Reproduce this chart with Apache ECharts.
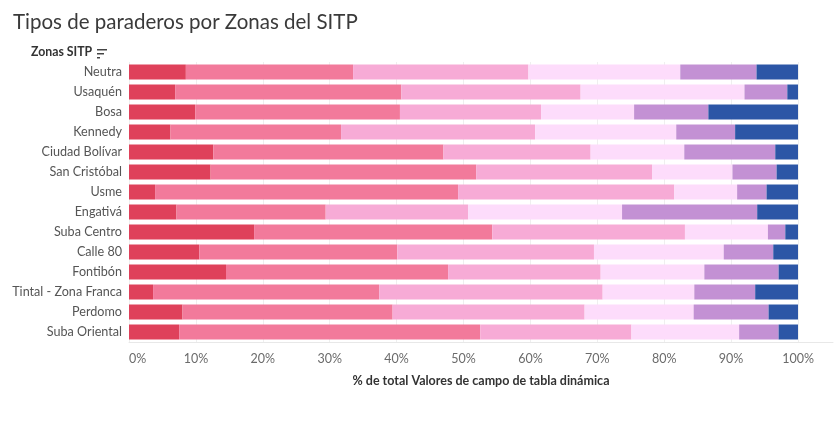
<!DOCTYPE html>
<html lang="es">
<head>
<meta charset="UTF-8">
<title>Tipos de paraderos por Zonas del SITP</title>
<script src="https://cdn.jsdelivr.net/npm/echarts@6/dist/echarts.min.js"></script>
<style>
    html, body { margin: 0; padding: 0; background: #fff; }
    #chart { width: 840px; height: 433px; }
</style>
</head>
<body>
<div id="chart"></div>
<script>
// zonas (de arriba hacia abajo)
var zonas = ['Neutra', 'Usaquén', 'Bosa', 'Kennedy', 'Ciudad Bolívar', 'San Cristóbal', 'Usme',
    'Engativá', 'Suba Centro', 'Calle 80', 'Fontibón', 'Tintal - Zona Franca', 'Perdomo', 'Suba Oriental'];

// % de total por tipo de paradero
var tipo1 = [8.5, 6.9, 9.9, 6.2, 12.6, 12.2, 3.9, 7.1, 18.7, 10.5, 14.5, 3.6, 8.0, 7.5];
var tipo2 = [25.0, 33.8, 30.6, 25.5, 34.4, 39.7, 45.3, 22.3, 35.6, 29.6, 33.2, 33.8, 31.4, 45.0];
var tipo3 = [26.2, 26.8, 21.1, 29.0, 22.0, 26.3, 32.3, 21.3, 28.8, 29.4, 22.8, 33.4, 28.7, 22.6];
var tipo4 = [22.7, 24.5, 13.9, 21.1, 14.0, 12.0, 9.4, 23.0, 12.4, 19.4, 15.5, 13.7, 16.3, 16.1];
var tipo5 = [11.4, 6.4, 11.1, 8.8, 13.6, 6.6, 4.4, 20.2, 2.6, 7.4, 11.1, 9.1, 11.2, 5.9];
var tipo6 = [6.2, 1.6, 13.4, 9.4, 3.4, 3.2, 4.7, 6.1, 1.9, 3.7, 2.9, 6.4, 4.4, 2.9];

var tipos = ['Tipo 1', 'Tipo 2', 'Tipo 3', 'Tipo 4', 'Tipo 5', 'Tipo 6'];
var valores = [tipo1, tipo2, tipo3, tipo4, tipo5, tipo6];
var colores = ['#df415b', '#f27a9b', '#f7abd6', '#fddcfb', '#c391d4', '#2c56a6'];

var fuente = 'Lato, "Open Sans", sans-serif';
var chart = echarts.init(document.getElementById('chart'));

var series = tipos.map(function (nombre, i) {
    return {
        name: nombre,
        type: 'bar',
        stack: 'total',
        barWidth: 15,
        itemStyle: { color: colores[i] },
        data: valores[i]
    };
});

chart.setOption({
    animation: false,
    textStyle: { fontFamily: fuente },
    title: {
        text: 'Tipos de paraderos por Zonas del SITP',
        left: 8,
        top: 7,
        textStyle: { fontFamily: fuente, fontSize: 20.5, fontWeight: 'normal', color: '#3a3a3a' }
    },
    graphic: [
        {
            type: 'text', left: 31, top: 46,
            style: { text: 'Zonas SITP', font: 'bold 12.3px ' + fuente, fill: '#333' }
        },
        { type: 'rect', left: 97, top: 49, shape: { width: 10, height: 1.5 }, style: { fill: '#444' } },
        { type: 'rect', left: 97, top: 53, shape: { width: 7, height: 1.5 }, style: { fill: '#444' } },
        { type: 'rect', left: 97, top: 57, shape: { width: 3, height: 1.5 }, style: { fill: '#444' } }
    ],
    grid: { left: 129, right: 7, top: 62, height: 280 },
    xAxis: {
        type: 'value',
        min: 0,
        max: 105.23,
        interval: 10,
        name: '% de total Valores de campo de tabla dinámica',
        nameLocation: 'middle',
        nameGap: 32,
        nameTextStyle: { fontFamily: fuente, fontSize: 12.5, fontWeight: 'bold', color: '#333' },
        axisLine: { show: true, lineStyle: { color: '#e8e8e8' } },
        axisTick: { show: false },
        axisLabel: {
            margin: 10,
            fontSize: 12.5,
            color: '#6b6b6b',
            alignMinLabel: 'left',
            formatter: function (v) { return v > 100.01 ? '' : v + '%'; }
        },
        splitLine: { show: true, showMaxLine: false, lineStyle: { color: '#efefef' } }
    },
    yAxis: {
        type: 'category',
        inverse: true,
        data: zonas,
        axisLine: { show: false },
        axisTick: { show: false },
        axisLabel: { margin: 7, fontSize: 12.6, color: '#555' }
    },
    series: series
});
</script>
</body>
</html>
